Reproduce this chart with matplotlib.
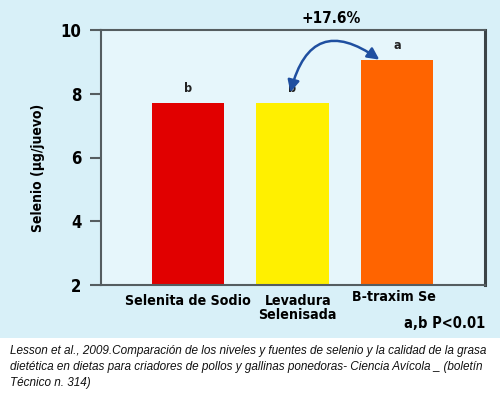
import matplotlib.pyplot as plt
from matplotlib.patches import Rectangle

categorias = ['Selenita de Sodio', 'Levadura\nSelenisada', 'B-traxim Se']
selenio = [7.7, 7.7, 9.05]
letras = ['b', 'b', 'a']
colores = ['#e10000', '#fff000', '#ff6400']
yticks = [2, 4, 6, 8, 10]
diferencia = '+17.6%'
nota = 'a,b P<0.01'
leyenda = ('Lesson et al., 2009.Comparación de los niveles y fuentes de selenio y la calidad de la grasa\n'
           'dietética en dietas para criadores de pollos y gallinas ponedoras- Ciencia Avícola _ (boletín\n'
           'Técnico n. 314)')

narrow = dict(family='DejaVu Sans', stretch='condensed', weight='bold')

fig = plt.figure(figsize=(5, 3.98), dpi=100)
fig.patch.set_facecolor('white')
fondo = Rectangle((0, 1 - 338 / 398), 1, 338 / 398, transform=fig.transFigure,
                  facecolor='#d8f0f8', edgecolor='none', zorder=-10)
fig.add_artist(fondo)

ax = fig.add_axes([101 / 500, 1 - 285 / 398, 384 / 500, 255 / 398])
ax.set_zorder(2)
ax.set_facecolor('#e6f6fb')
x = list(range(len(categorias)))
ax.bar(x, selenio, width=0.69, bottom=0, color=colores, zorder=2)
ax.set_ylim(2, 10)
ax.set_xlim(-0.83, 2.84)
ax.set_yticks(yticks)
ax.set_yticklabels([str(t) for t in yticks], fontsize=12, **narrow)
ax.set_xticks([])
ax.tick_params(axis='y', length=8, width=1.5, color='#555d60', pad=6)
for s in ['left', 'top', 'bottom']:
    ax.spines[s].set_color('#555d60')
    ax.spines[s].set_linewidth(1.5)
ax.spines['right'].set_color('#3c4447')
ax.spines['right'].set_linewidth(2.2)

ax.set_ylabel('Selenio (µg/juevo)', fontsize=10, **narrow)
ax.yaxis.set_label_coords(-0.146, 0.46)

for xi, v, l in zip(x, selenio, letras):
    ax.text(xi, v + 0.45, l, ha='center', va='center', fontsize=9,
            color='#222222', zorder=4, **narrow)

# etiquetas de categoria
offs = [0, 0.05, -0.03]
tops = [1.72, 1.72, 1.85]
for xi, c, o, t in zip(x, categorias, offs, tops):
    ax.text(xi + o, t, c, ha='center', va='top', fontsize=10.2,
            linespacing=1.0, clip_on=False, **narrow)
ax.text(2.84, 0.78, nota, ha='right', va='center', fontsize=10.5, clip_on=False, **narrow)

ax.annotate('', xy=(0.98, 8.05), xytext=(1.83, 9.07),
            arrowprops=dict(arrowstyle='<|-|>,head_length=0.7,head_width=0.35', color='#1f4fa0',
                            lw=1.8, connectionstyle='arc3,rad=0.72', shrinkA=0, shrinkB=0),
            zorder=5, annotation_clip=False)
ax.text(1.37, 10.37, diferencia, ha='center', va='center', fontsize=11, clip_on=False, **narrow)

fig.text(0.02, 1 - 345 / 398, leyenda, ha='left', va='top', fontsize=8.5, style='italic',
         family=['Liberation Sans', 'DejaVu Sans'], linespacing=1.42, color='#111111')

fig.savefig('out.png', dpi=100)
